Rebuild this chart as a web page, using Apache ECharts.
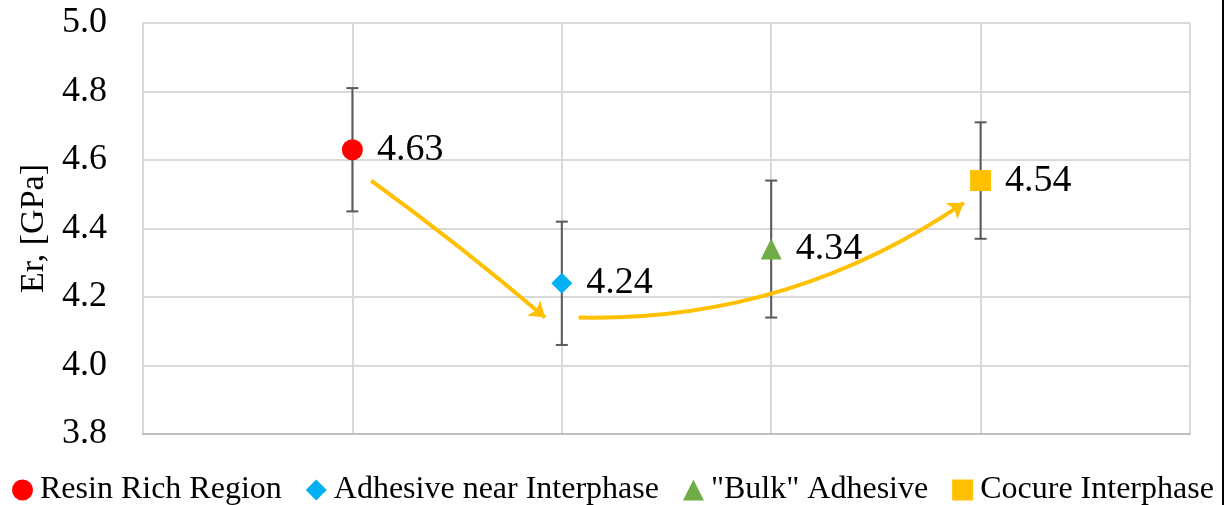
<!DOCTYPE html>
<html>
<head>
<meta charset="utf-8">
<title>Er by region</title>
<script src="https://cdn.jsdelivr.net/npm/echarts@6/dist/echarts.min.js"></script>
<style>
  html, body { margin: 0; padding: 0; background: #ffffff; }
  #chart { width: 1226px; height: 505px; }
</style>
</head>
<body>
<div id="chart"></div>
<script>
// Measured reduced modulus per region, with standard deviations
const categories = ['Resin Rich Region', 'Adhesive near Interphase', '"Bulk" Adhesive', 'Cocure Interphase'];
const positions = [1, 2, 3, 4];
const means = [4.63, 4.24, 4.34, 4.54];
const errors = [0.18, 0.18, 0.20, 0.17];
const yTicks = [3.8, 4.0, 4.2, 4.4, 4.6, 4.8, 5.0];

// Trend arrows, in data coordinates: [start, end]
const arrowStarts = [[1.09, 4.54], [2.08, 4.14]];
const arrowEnds = [[1.92, 4.14], [3.92, 4.475]];
const arrowBends = [0.02, -0.16];

const colors = ['#FF0000', '#00B0F0', '#70AD47', '#FFC000'];
const symbols = ['circle', 'diamond', 'triangle', 'rect'];
const serif = '"Liberation Serif", "Times New Roman", serif';

const chart = echarts.init(document.getElementById('chart'), null, { renderer: 'canvas' });

const pointSeries = categories.map((name, i) => ({
  name: name,
  type: 'scatter',
  symbol: symbols[i],
  symbolSize: 21,
  itemStyle: { color: colors[i], opacity: 1 },
  z: 5,
  data: [[positions[i], means[i]]],
  label: {
    show: true,
    position: 'right',
    distance: 14,
    color: '#000000',
    fontFamily: serif,
    fontSize: 38,
    formatter: p => p.value[1].toFixed(2)
  }
}));

const errorSeries = {
  type: 'custom',
  name: 'error',
  silent: true,
  z: 3,
  data: positions.map((x, i) => [x, means[i] - errors[i], means[i] + errors[i]]),
  renderItem: function (params, api) {
    const low = api.coord([api.value(0), api.value(1)]);
    const high = api.coord([api.value(0), api.value(2)]);
    const cap = 6;
    const style = { stroke: '#595959', lineWidth: 2 };
    return {
      type: 'group',
      children: [
        { type: 'line', shape: { x1: low[0], y1: low[1], x2: high[0], y2: high[1] }, style: style },
        { type: 'line', shape: { x1: low[0] - cap, y1: low[1], x2: low[0] + cap, y2: low[1] }, style: style },
        { type: 'line', shape: { x1: high[0] - cap, y1: high[1], x2: high[0] + cap, y2: high[1] }, style: style }
      ]
    };
  }
};

const arrowSeries = {
  type: 'lines',
  coordinateSystem: 'cartesian2d',
  silent: true,
  z: 4,
  symbol: ['none', 'arrow'],
  symbolSize: 15,
  lineStyle: { color: '#FFC000', width: 4, opacity: 1 },
  data: arrowStarts.map((s, i) => ({
    coords: [s, arrowEnds[i]],
    lineStyle: { curveness: arrowBends[i] }
  }))
};

chart.setOption({
  animation: false,
  backgroundColor: '#ffffff',
  grid: { left: 143, right: 36, top: 23, bottom: 71 },
  xAxis: {
    type: 'value',
    min: 0,
    max: 5,
    interval: 1,
    axisLabel: { show: false },
    axisTick: { show: false },
    axisLine: { show: true, onZero: false, lineStyle: { color: '#BFBFBF', width: 2 } },
    splitLine: { show: true, lineStyle: { color: '#D9D9D9', width: 2 } }
  },
  yAxis: {
    type: 'value',
    min: yTicks[0],
    max: yTicks[yTicks.length - 1],
    interval: 0.2,
    name: 'Er, [GPa]',
    nameLocation: 'middle',
    nameGap: 92,
    nameTextStyle: { fontFamily: serif, fontSize: 34, color: '#000000' },
    axisLabel: {
      margin: 36,
      fontFamily: serif,
      fontSize: 36,
      color: '#000000',
      formatter: v => v.toFixed(1)
    },
    axisTick: { show: false },
    axisLine: { show: false },
    splitLine: { show: true, lineStyle: { color: '#D9D9D9', width: 2 } }
  },
  legend: {
    data: categories.map((name, i) => ({ name: name, icon: symbols[i] })),
    left: 7,
    top: 469,
    width: 1219,
    itemWidth: 21,
    itemHeight: 21,
    itemGap: 24,
    textStyle: { fontFamily: serif, fontSize: 32, color: '#000000', padding: [0, 0, 0, 2] }
  },
  graphic: [{
    type: 'rect',
    shape: { x: 1222, y: 0, width: 2, height: 505 },
    style: { fill: '#000000' },
    silent: true
  }],
  series: [errorSeries, arrowSeries].concat(pointSeries)
});
</script>
</body>
</html>
